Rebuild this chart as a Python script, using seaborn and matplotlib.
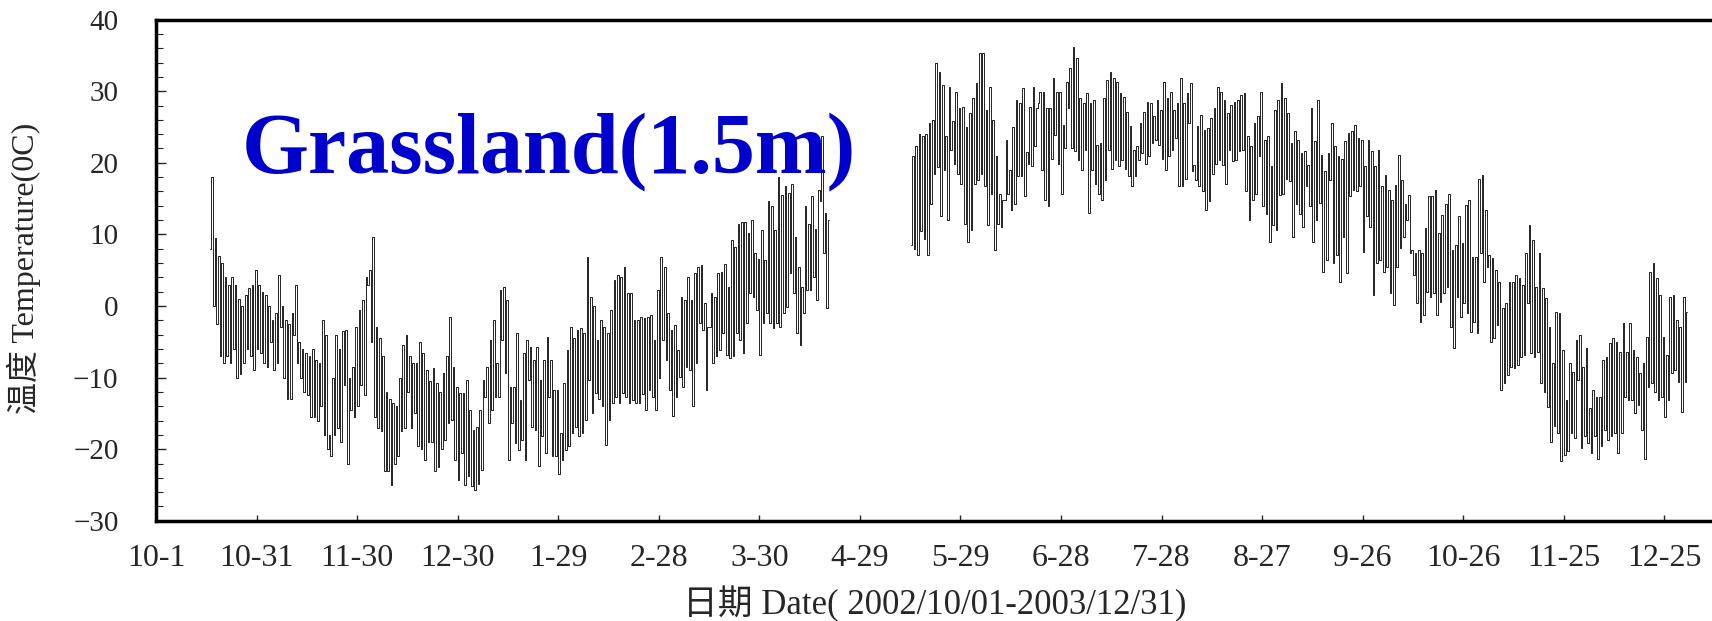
import numpy as np
import pandas as pd
import matplotlib
matplotlib.use("Agg")
import matplotlib.pyplot as plt
import seaborn as sns
from matplotlib.ticker import MultipleLocator

# ---------------- data ----------------
# days counted from 2002-10-01 (day 0)
seg1_start = 16
seg1_max = [18, 9.5, 7, 6, 4, 3, 4, 3, 1, 0, 1.5, 2.5, 3, 5, 3, 2, 1.5, 0, -2, -1,
            4.3, 0, -2, -2.5, -1, 3, -5, -6, -6.5, -7, -6, -7.5, -8, -2, -4, -18, -10, -4, -6, -3.5,
            -3.3, -10, -8.5, -3, -0.5, 0.8, 4, 5, 9.7, -3, -4.5, -7, -12, -13, -13.5, -14, -10, -5.5, -4, -7,
            -8, -8, -5,
            -6.6, -9, -10.5, -8.7, -10.8, -12, -9.4, -7, -1.5, -8.5, -11.3, -12.2, -12.2, -10.3, -14.5, -17.3,
            -16.9, -14.5, -10.3, -8.5, -4.7, -2, -8, 2.2, 2.7, 0.8, -11.3, -11.3, -3.8, -13.1, -6.6, -4.7,
            -5.7, -7.5, -5.7, -10.3, -7.5, -4.3, -7.5, -11.7, -11.7, -17.8, -10.8, -6.1, -2.9, -4.5, -3.3, -3.1,
            -3.8, 6.9, 1.3, 0, -4.7, -2, -3, -3.8, -0.5, 3.6, 4.3, 4.1, 5.5, 1.8, 1.8, -2, -2,
            -1.5, -1.7, -1.5, -1.3, -4.7, 2.2, 6.9, 5.5, -1, -3.3, -2.6, -6.1, 1.3, 0.8, 4.1, 0.8, 4.6, 5.5,
            5.7, 0.4, -2.9, 1.8, 1.3, 4.6, 4.8, 5.9, 2.7, 9.2, 8.3, 11.5, 11.8, 11.8, 10.2, 12, 7.4, 6.6,
            10.6, 6.4, 14.6, 13.9, 10.6, 18, 15.5, 16.7, 15.8, 17.1, 9.7, 5.5, 2.7, 13.9, 11.5, 15.3, 10.8,
            16.2, 23.7, 13, 12]
seg1_min = [8, 0, -2.5, -7, -8, -7, -8, -6, -10, -9.5, -8, -6, -7, -9, -6, -6.5, -8, -8.5, -5, -9,
            -8, -3, -10, -13, -13, -4, -8, -10, -12, -12.5, -15.5, -15.5, -16, -14, -18, -20, -21, -18, -17, -19,
            -11, -22, -14.5, -15.5, -14, -11, -12.5, 3, -5, -15.5, -17, -17.5, -23, -23, -25, -22, -21, -17.5,
            -17, -12, -17, -15, -19.5,
            -20, -21.5, -19, -19, -23, -22.5, -20, -18.7, -16.4, -15.9, -21.5, -24.3, -20.6, -25, -23.8, -25.2,
            -25.7, -24.8, -22.9, -12.7, -16.4, -14.5, -12.7, -12.7, -4.7, -9.4, -21.5, -16.4, -19.2, -20.1,
            -18.7, -21.5, -10.3, -16.9, -17.3, -22.4, -18.2, -20.6, -12.7, -21, -21, -23.4, -21.5, -20.1,
            -19.6, -17.8, -16.9, -18.2, -17.8, -15.9, -10.3, -15, -12.2, -13, -14, -19.4, -15.9, -13.6, -12.7,
            -13.6, -12.2, -12.7, -13.6, -13.1, -13.6,
            -13.6, -12.3, -14.5, -11.7, -12.7, -14.5, -10.1, -4.7, -7.5, -11.7, -15.4, -12.7, -9.9, -11.3,
            -8.5, -9, -14, -8, -2.4, -3.3, -11.7, -2.9, -8, -7, -6.1, -3.8, -6.8, -7.3, -7, -3.8, -4.7, -6.6,
            -2.4, 1.8, 1.3, -0.6, -6.8, -2.4, -1, -2.4, -3.1, -2.4, -2.9, -1, -0.1, 4.6, 1.8, -3.8, -5.4, -1,
            2.2, 2.2, 4.1, 0.8, 14.6, 7.4, -0.3]

seg2_start = 225
seg2_max = [20.9, 22.3, 24, 23.7, 24, 25.5, 26, 33.9, 32.7, 30.9, 23.7, 30.6, 25.8, 29.9, 27.6, 27.8,
            25, 26.9, 29, 31.1, 35.3, 35.3, 27.4, 30.6, 26, 20.9, 15.7, 14.8, 23.2, 19, 25, 28.8, 28.3, 30.4,
            21.5, 27.8, 30.6, 27.6, 29.9, 29.9, 27.6, 27.6, 31.8, 29.9, 29.9, 25.3, 31.3, 33.2, 36.2, 34.6,
            29, 28.3, 29.7, 28.3, 28.8, 22.5, 22.7,
            29.0, 31.6, 32.7, 31.8, 31.3, 29.7, 29.2, 27.1, 25.1, 21.8, 22.3, 25.5, 27.1, 28.5, 28.3, 26.5,
            28.8, 27.4, 31.3, 29.0, 29.9, 27.4, 28.3, 31.8, 28.3, 29.7, 31.1, 19.7, 25.1, 26.7, 24.6, 24.8,
            26.2, 27.6, 30.6, 29.9, 28.8, 26.9, 28.1, 28.5, 28.8, 29.5, 29.7, 23.7, 22.3, 25.5, 26.5, 29.9,
            23.2, 23.7, 19.5, 27.4, 28.8, 31.1, 29.0, 26.9, 22.7, 24.4, 23.2, 21.3,
            21.6, 19.7, 27.6, 23.0, 28.8, 21.1, 18.8, 21.3, 25.5, 22.3, 20.9, 20.6, 23.0, 24.1, 24.4, 25.3,
            23.4, 23.2, 19.5, 23.2, 21.6, 19.5, 21.8, 16.7, 18.3, 16.2, 14.8, 16.9, 21.1, 17.6, 14.3, 15.5,
            7.8, 7.4, 7.8, 7.4, 10.9, 15.3, 15.3, 16.2, 10.2, 12.7, 14.3, 15.7, 7.8, 8.5, 12.5, 8.8, 14.1,
            14.8, 6.9, 6.9, 17.8, 18.3, 13.4, 7.1, 6.7, 5.0, 3.4,
            -0.3, 0.4, 3.4, 3.4, 4.3, 3.9, 3.0, 7.4, 11.3, 9.2, 2.7, 7.4, 2.5, 1.1, -2.9, -8.0, -0.8, -1.0,
            -6.1, -13.1, -8.0, -9.2, -4.7, -4.0, -8.5, -5.9, -14.3, -11.7, -12.7, -12.7, -7.5, -7.1, -5.2,
            -4.5, -5.0, -6.4, -2.4, -6.4, -2.4, -6.1, -7.1, -9.4, -8.0, -4.3, 4.8, 6.0, 3.9, 1.5, -4.3, -6.8,
            1.3, 1.5, -2.0, -2.9, 1.3, -0.8]
seg2_min = [8.5, 8, 7.1, 10.5, 9.3, 7.1, 14.3, 18.5, 19.4, 12.5, 19, 12, 21.8, 19.9, 18.5, 17, 11.5, 9,
            10.6, 17.1, 17.6, 18.5, 16.7, 11.3, 15.7, 7.8, 11.5, 11, 14.8, 15.7, 13.4, 14.3, 18.1, 18.1,
            15.3, 19.9, 19.5, 22.3, 28.3, 19, 14.8, 13.9, 20.6, 23.9, 19.9, 15.7, 22, 27.6, 22, 21.6, 20.4,
            19, 21.8, 13, 19, 17.1, 15.7,
            14.8, 17.6, 21.8, 19.2, 20.4, 19.5, 20.4, 19.2, 18.1, 16.7, 18.1, 20.4, 21.3, 19.9, 20.9, 22.7,
            23.2, 22.5, 20.6, 19.0, 20.9, 21.8, 23.4, 16.7, 16.7, 17.8, 25.5, 18.8, 17.6, 16.7, 16.0, 13.4,
            14.6, 18.5, 19.9, 20.4, 19.7, 17.1, 21.8, 20.2, 20.4, 21.6, 21.8, 16.0, 12.0, 14.8, 15.7, 20.9,
            13.9, 12.9, 9.0, 11.3, 10.6, 15.5, 15.7, 17.8, 17.4, 9.7, 14.3, 12.9,
            11.1, 16.7, 13.9, 9.0, 12.0, 14.4, 4.8, 6.4, 17.6, 6.0, 7.1, 3.4, 9.7, 4.6, 15.3, 16.2, 16.0,
            16.7, 7.6, 12.5, 11.1, 1.5, 6.0, 6.4, 4.8, 5.5, 1.8, 0.1, 5.5, 8.1, 9.7, 12.0, 7.4, 4.3, 0.4,
            -2.2, -1.3, 2.0, 1.3, 1.8, -1.3, 0.6, 1.8, 2.7, -2.9, -5.9, 1.3, -1.5, 0.4, -1.0, -3.6, -2.2,
            -3.8, 7.4, 3.4, 5.5, -5.0, -4.5, -2.6,
            -11.7, -10.8, -9.6, -8.5, -8.7, -8.2, -7.1, -6.8, 0.4, -6.6, -7.1, -6.4, -10.8, -12.0, -14.1,
            -19.0, -16.8, -17.8, -21.7, -20.8, -20.3, -17.8, -18.5, -10.3, -19.9, -18.2, -19.2, -20.6, -18.2,
            -21.3, -19.6, -17.3, -18.7, -18.2, -17.8, -20.6, -17.8, -12.7, -13.1, -13.1, -15.0, -13.8,
            -17.3, -21.3, -11.3, -10.8, -12.0, -13.1, -12.7, -15.5, -13.1, -9.4, -8.9, -10.6, -14.8, -10.6]

tick_days = list(range(0, 451, 30))
tick_labels = ["10-1", "10-31", "11-30", "12-30", "1-29", "2-28", "3-30", "4-29",
               "5-29", "6-28", "7-28", "8-27", "9-26", "10-26", "11-25", "12-25"]
title_text = "Grassland(1.5m)"
ylabel_text = "温度 Temperature(0C)"
xlabel_text = "日期 Date( 2002/10/01-2003/12/31)"

# ---------------- build long table: morning minimum, afternoon maximum ----------------
rows = []
for seg_id, (start, mx, mn) in enumerate([(seg1_start, seg1_max, seg1_min),
                                          (seg2_start, seg2_max, seg2_min)]):
    for i, (hi, lo) in enumerate(zip(mx, mn)):
        d = start + i
        rows.append((d + 0.25, lo, seg_id))
        rows.append((d + 0.75, hi, seg_id))
df = pd.DataFrame(rows, columns=["t", "temp", "seg"])

# ---------------- figure ----------------
sns.set_style("ticks")
serif = ["Liberation Serif", "Noto Sans CJK SC"]
plt.rcParams["font.family"] = serif
plt.rcParams["axes.unicode_minus"] = True

W, H = 1712, 621
fig = plt.figure(figsize=(W / 100, H / 100), dpi=100)
ax = fig.add_axes([156 / W, 1 - 520.8 / H, 1556 / W, 501.2 / H])

sns.lineplot(data=df, x="t", y="temp", units="seg", estimator=None, sort=True,
             color="black", lw=0.6, drawstyle="steps-mid", legend=False, ax=ax, zorder=3)

ax.set_xlim(0, 464.2)
ax.set_ylim(-30, 40)
ax.set_xticks(tick_days)
ax.set_xticklabels(tick_labels)
ax.set_yticks(range(-30, 41, 10))
ax.yaxis.set_minor_locator(MultipleLocator(2))
ax.set_xlabel("")
ax.set_ylabel("")

for s in ["left", "bottom", "top"]:
    ax.spines[s].set_linewidth(2.5)
    ax.spines[s].set_color("black")
ax.spines["right"].set_visible(False)

ax.tick_params(axis="y", which="major", direction="in", length=7, width=1.0,
               pad=27, labelsize=21, right=False)
ax.tick_params(axis="y", which="minor", direction="in", length=5, width=0.8, right=False)
ax.tick_params(axis="x", which="major", direction="in", length=4.5, width=1.0,
               pad=17, labelsize=23, top=False)

ax.text(0.0553, 0.695, title_text, transform=ax.transAxes, fontsize=62,
        fontweight="bold", color="#0000CC", family="Liberation Serif",
        va="baseline", ha="left", zorder=1)

fig.text(24 / W, 1 - 268 / H, ylabel_text, rotation=90, va="center", ha="center",
         fontsize=23, family=serif)
fig.text(935 / W, 1 - 604 / H, xlabel_text, va="center", ha="center",
         fontsize=25, family=serif)

fig.savefig("out.png", dpi=100)
